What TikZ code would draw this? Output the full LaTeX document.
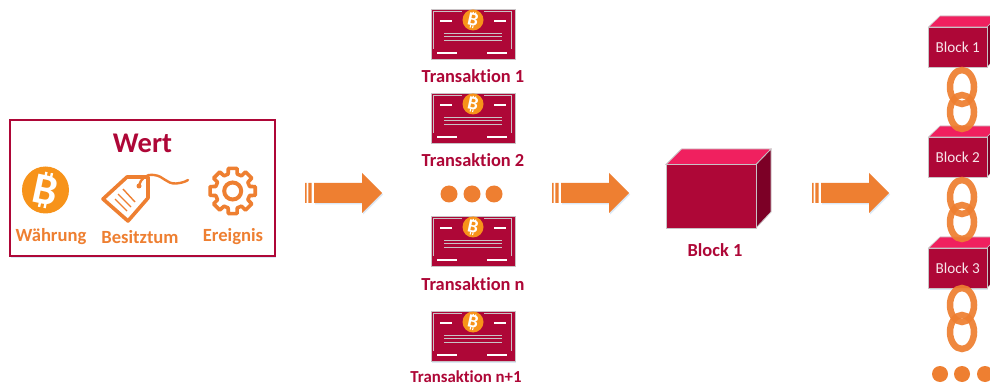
\documentclass[tikz,border=0pt]{standalone}
\usepackage{fontspec}
\setmainfont[Ligatures=NoCommon]{Carlito}
\usetikzlibrary{shadows}
\definecolor{crim}{HTML}{AE0737}
\definecolor{crimtop}{HTML}{F0205F}
\definecolor{crimside}{HTML}{7C0026}
\definecolor{orng}{HTML}{EE7F31}
\definecolor{btc}{HTML}{F7931A}
\definecolor{glow}{HTML}{DCE8F5}
\definecolor{frameg}{HTML}{C9C3C6}
\tikzset{
  softshadow/.style={drop shadow={shadow xshift=1pt,shadow yshift=-1.5pt,fill=glow,opacity=1}},
  txtcrim/.style={text=crim,font=\bfseries\fontsize{18.4}{20}\selectfont,inner sep=0pt},
  txtsmall/.style={text=crim,font=\bfseries\fontsize{16.8}{18}\selectfont,inner sep=0pt},
  txtorng/.style={text=orng,font=\bfseries\fontsize{18.6}{20}\selectfont,inner sep=0pt},
  blocktxt/.style={text=white!90!crim,font=\fontsize{15.2}{17}\selectfont,inner sep=0pt},
  ringlink/.style={draw=orng,line width=6.5pt,opacity=.93},
  dotmark/.style={circle,fill=orng,minimum size=17pt,inner sep=0pt},
  chaindot/.style={circle,fill=orng,minimum size=16pt,inner sep=0pt},
  certframe/.style={draw=frameg,line width=.8pt},
  certwhite/.style={draw=white,line width=1.2pt},
  iconline/.style={draw=orng,line width=3.6pt,line join=round,line cap=round},
}
% name, x, y, radius, font size
\newcommand\coin[5]{%
  \node[circle,fill=btc,minimum size=#4*2pt,inner sep=0pt] (#1) at (#2,#3) {};
  \node[rotate=-12,text=white,font=\bfseries\fontsize{#5}{#5}\selectfont,inner sep=0pt] at (#1) {B};
  \begin{scope}[shift={(#2,#3)},rotate=-12,scale=#4/10]
    \draw[white,line width=#4*.1pt] (-1.2,-7.6) -- (-1.2,-5) (1.2,-7.6) -- (1.2,-5) (-1.2,7.6) -- (-1.2,5) (1.2,7.6) -- (1.2,5);
  \end{scope}
}
% name, centre y
\newcommand\certif[2]{%
  \node[rectangle,fill=crim,draw=frameg,line width=.8pt,minimum width=84pt,minimum height=50pt,inner sep=0pt,softshadow] (#1) at (473,#2) {};
  \begin{scope}[shift={(473,#2)}]
    \draw[certframe] (-11,-23) -- (-40,-23) -- (-40,15);
    \draw[certframe] (11,-23) -- (38,-23) -- (38,15);
    \draw[certwhite] (-33,-13) -- (-21,-13) (21,-13) -- (33,-13);
    \draw[frameg,line width=1pt] (-29,-.5) -- (29,-.5) (-29,2.7) -- (29,2.7) (-29,6.4) -- (29,6.4);
    \draw[certwhite] (-36,19) -- (-16,19) (14,19) -- (34,19);
  \end{scope}
  \coin{#1c}{473}{#2-14}{10.5}{19}
}
% name, left x, centre y
\newcommand\blockarrow[3]{%
  \begin{scope}[shift={(#2,#3)}]
    \fill[orng,softshadow] (9,-10) -- (57,-10) -- (57,-20) -- (77,0) -- (57,20) -- (57,10) -- (9,10) -- cycle;
    \fill[orng] (0,-10) rectangle (1.6,10) (3.4,-10) rectangle (6.6,10);
    \coordinate (#1) at (38,0);
  \end{scope}
}
% name, y top of front, text
\newcommand\chainblock[3]{%
  \fill[crimtop,draw=frameg,line width=.6pt] (928.5,#2) -- (940,#2-11) -- (998,#2-11) -- (987,#2) -- cycle;
  \fill[crimside,draw=frameg,line width=.6pt] (987,#2) -- (998,#2-11) -- (998,#2+29) -- (987,#2+40) -- cycle;
  \node[rectangle,fill=crim,draw=frameg,line width=.6pt,minimum width=58.5pt,minimum height=40pt,inner sep=0pt,blocktxt,softshadow] (#1) at (957.75,#2+20) {#3};
}
\begin{document}
\begin{tikzpicture}[x=1pt,y=-1pt]
\useasboundingbox (0,0) rectangle (990,387);
\fill[white] (0,0) rectangle (990,387);

% Wert box
\node[rectangle,draw=crim,line width=2pt,fill=white,minimum width=265pt,minimum height=136pt,inner sep=0pt,softshadow] (wert) at (142.5,188.5) {};
\node[text=crim,font=\bfseries\fontsize{28.5}{30}\selectfont,inner sep=0pt] (werttitle) at (142.5,143) {Wert};
\coin{coinbig}{45.5}{190}{23.5}{44}
\node[txtorng] (lw) at (51,237) {Währung};
\node[txtorng] (lb) at (140,237) {Besitztum};
\node[txtorng] (le) at (233,237) {Ereignis};
% tag
\draw[iconline] (127,177) -- (148,177) -- (148,198) -- (128,221) -- (103,199) -- cycle;
\draw[draw=orng,line width=2.4pt,line cap=round] (139,186) .. controls (141,178) and (146,174) .. (154,175) .. controls (164,176) and (166,184) .. (176,183.5) .. controls (181,183) and (185,182) .. (188,180);
\fill[orng] (139,186) circle (2.5);
\draw[draw=orng,line width=1.4pt] (115,199) -- (127,211) (118,194) -- (131,207) (123,189) -- (135,202);
% gear
\begin{scope}[shift={(232.7,191)}]
  \draw[iconline] (-15:17.5) \foreach \a in {0,45,...,315}{
     -- (\a-15:17.5) -- (\a-11:23) -- (\a+11:23) -- (\a+15:17.5)} -- cycle;
  \draw[orng,line width=4pt] (0,0) circle (8.5);
\end{scope}

% arrows
\blockarrow{a1}{305}{193}
\blockarrow{a2}{552}{193}
\blockarrow{a3}{812}{193}

% transactions
\certif{t1}{34}
\node[txtcrim] (t1l) at (473,76) {Transaktion 1};
\certif{t2}{118}
\node[txtcrim] (t2l) at (473,160) {Transaktion 2};
\node[dotmark] (d1) at (449,194) {};
\node[dotmark] (d2) at (472,194) {};
\node[dotmark] (d3) at (494,194) {};
\certif{t3}{241}
\node[txtcrim] (t3l) at (473,284) {Transaktion n};
\certif{t4}{336}
\node[txtsmall] (t4l) at (466,377) {Transaktion n+1};

% big block
\fill[crimtop,draw=frameg,line width=.8pt] (666,164.5) -- (681.5,149) -- (771,149) -- (756,164.5) -- cycle;
\fill[crimside,draw=frameg,line width=.8pt] (756,164.5) -- (771,149) -- (771,212) -- (756,228) -- cycle;
\node[rectangle,fill=crim,draw=frameg,line width=.8pt,minimum width=90pt,minimum height=63.5pt,inner sep=0pt,softshadow] (bigblock) at (711,196.2) {};
\node[txtcrim] (bigl) at (715,250) {Block 1};

% chain
\chainblock{b1}{27}{Block 1}
\chainblock{b2}{137}{Block 2}
\chainblock{b3}{248}{Block 3}
\draw[ringlink] (962,87) ellipse (12 and 17);
\draw[ringlink] (962,112) ellipse (12 and 17);
\draw[ringlink] (962,197) ellipse (12 and 17);
\draw[ringlink] (962,222) ellipse (12 and 17);
\draw[ringlink] (962,305) ellipse (12 and 17);
\draw[ringlink] (962,332) ellipse (12 and 17);
\node[chaindot] (c1) at (940,374) {};
\node[chaindot] (c2) at (962,374) {};
\node[chaindot] (c3) at (985,374) {};
\end{tikzpicture}
\end{document}
